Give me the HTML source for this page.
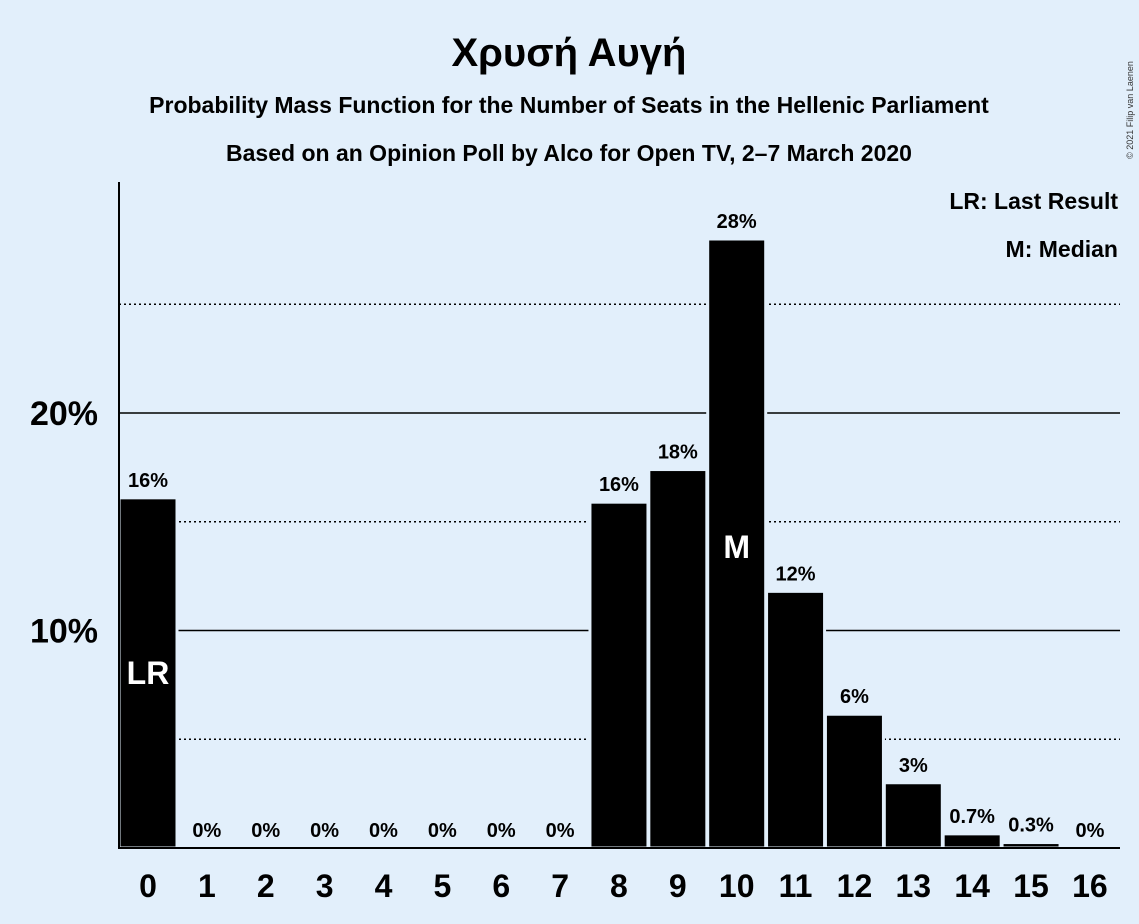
<!DOCTYPE html>
<html><head><meta charset="utf-8"><style>
body{margin:0;background:#e2effb;}
svg{display:block;font-family:"Liberation Sans",sans-serif;}
</style></head><body>
<svg id="c" width="1139" height="924">
<rect width="1139" height="924" fill="#e2effb"/>
<text x="569" y="66" text-anchor="middle" font-size="40" font-weight="bold">Χρυσή Αυγή</text>
<text x="569" y="113" text-anchor="middle" font-size="23" font-weight="bold">Probability Mass Function for the Number of Seats in the Hellenic Parliament</text>
<text x="569" y="161" text-anchor="middle" font-size="23" font-weight="bold">Based on an Opinion Poll by Alco for Open TV, 2–7 March 2020</text>
<text x="1133" y="110" font-size="9" transform="rotate(-90 1133 110)" text-anchor="middle" fill="#333">© 2021 Filip van Laenen</text>
<text x="1118" y="209" text-anchor="end" font-size="23" font-weight="bold">LR: Last Result</text>
<text x="1118" y="257" text-anchor="end" font-size="23" font-weight="bold">M: Median</text>
<g id="grid"></g><g id="bars"></g><g id="labels"></g>
<line x1="119" y1="182" x2="119" y2="849" stroke="#000" stroke-width="2"/>
<line x1="118" y1="848" x2="1120" y2="848" stroke="#000" stroke-width="2"/>
</svg>
<script>
const seats=[0,1,2,3,4,5,6,7,8,9,10,11,12,13,14,15,16];
const probs=[16.1,0,0,0,0,0,0,0,15.9,17.4,28.0,11.8,6.15,3.0,0.65,0.25,0];
const valueLabels=["16%","0%","0%","0%","0%","0%","0%","0%","16%","18%","28%","12%","6%","3%","0.7%","0.3%","0%"];
const solidTicks=[10,20];
const dottedTicks=[5,15,25];
const tickLabels=["10%","20%"];
const lastResult=0, median=10;
const NS="http://www.w3.org/2000/svg";
const y=v=>848-v*21.75;
const x=s=>148+s*58.87;
function mk(t,a,p){const e=document.createElementNS(NS,t);for(const k in a)e.setAttribute(k,a[k]);p.appendChild(e);return e;}
const g=document.getElementById('grid'),b=document.getElementById('bars'),l=document.getElementById('labels');
dottedTicks.forEach(v=>{const e=mk('line',{x1:119,x2:1120,y1:y(v),y2:y(v),stroke:'#000','stroke-width':1.5,'stroke-dasharray':'2,3'},g);

});
solidTicks.forEach((v,i)=>{const e=mk('line',{x1:119,x2:1120,y1:y(v),y2:y(v),stroke:'#000','stroke-width':1.5},g);


const t=mk('text',{x:98,y:y(v)+12,'text-anchor':'end','font-size':34,'font-weight':'bold'},g);t.textContent=tickLabels[i];

});
seats.forEach((s,i)=>{const v=probs[i];
if(v>0){const r=mk('rect',{x:x(s)-29,y:y(v),width:58,height:848-y(v),fill:'#000',stroke:'#e2effb','stroke-width':3},b);

}
const t=mk('text',{x:x(s),y:y(v)-11,'text-anchor':'middle','font-size':20,'font-weight':'bold',stroke:'#e2effb','stroke-width':4,'paint-order':'stroke'},l);t.textContent=valueLabels[i];


const xt=mk('text',{x:x(s),y:897,'text-anchor':'middle','font-size':32,'font-weight':'bold'},l);xt.textContent=s;


if(s===lastResult||s===median){const m=mk('text',{x:x(s),y:s===lastResult?y(v/2)+11:y(v/2)+11+(s===median?0:0),'text-anchor':'middle','font-size':32,'font-weight':'bold',fill:'#fff'},l);
m.textContent=s===lastResult?'LR':'M';
if(s===median)m.setAttribute('y',558);

}
});
</script>
</body></html>
